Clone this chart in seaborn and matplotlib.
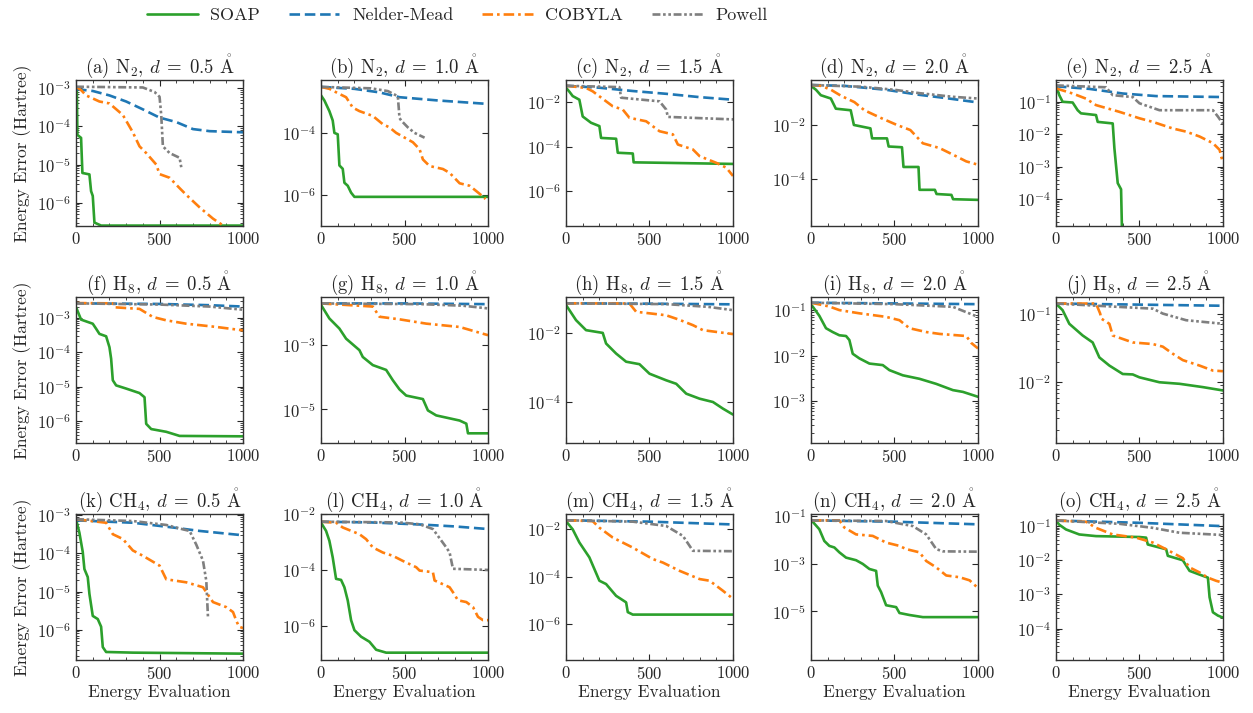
import matplotlib
matplotlib.use("Agg")
import matplotlib.pyplot as plt
from matplotlib.ticker import FixedLocator
import seaborn as sns
import pandas as pd

# ---------- data ((x = energy evaluation, y = energy error)) ----------
methods = ["SOAP", "Nelder-Mead", "COBYLA", "Powell"]
molecules = ["N$_2$"] * 5 + ["H$_8$"] * 5 + ["CH$_4$"] * 5
distances = ["0.5", "1.0", "1.5", "2.0", "2.5"] * 3
letters = "abcdefghijklmno"
ylims = [
    (2.4e-7, 1.65e-3), (1e-7, 5e-3), (2.7e-8, 0.1), (1.8e-6, 0.46), (1.45e-5, 0.47),
    (2.35e-7, 4e-3), (8.9e-7, 0.032), (6.3e-6, 0.117), (1.2e-4, 0.195), (1.3e-3, 0.175),
    (1.6e-7, 1.1e-3), (6e-8, 1.02e-2), (3.2e-8, 0.045), (9e-8, 0.125), (1.2e-5, 0.23),
]
# labelled decades on the y axis of each panel
ytick_exp = [
    [-3, -4, -5, -6], [-4, -6], [-2, -4, -6], [-2, -4], [-1, -2, -3, -4],
    [-3, -4, -5, -6], [-3, -5], [-2, -4], [-1, -2, -3], [-1, -2],
    [-3, -4, -5, -6], [-2, -4, -6], [-2, -4, -6], [-1, -3, -5], [-1, -2, -3, -4],
]

# (a) N2 0.5
a_soap = [(0, 1.0e-3), (5, 8e-4), (8, 6e-5), (30, 5e-5), (38, 6e-6), (80, 5.5e-6), (90, 2e-6),
          (100, 1.5e-6), (110, 3e-7), (150, 2.5e-7), (1000, 2.5e-7)]
a_nm = [(0, 9.5e-4), (100, 8.5e-4), (200, 6.5e-4), (300, 4.5e-4), (400, 2.8e-4), (500, 1.7e-4),
        (600, 1.3e-4), (700, 8.5e-5), (800, 7.5e-5), (1000, 7e-5)]
a_cob = [(0, 1.1e-3), (30, 9e-4), (60, 6.5e-4), (140, 4.5e-4), (200, 4e-4), (280, 2e-4), (340, 7e-5),
         (380, 3e-5), (420, 2e-5), (480, 1e-5), (500, 5.6e-6), (560, 4.5e-6), (620, 2.4e-6),
         (660, 1.6e-6), (740, 7.5e-7), (820, 3.8e-7), (870, 2.7e-7), (880, 2.5e-7)]
a_pow = [(0, 1.1e-3), (400, 1.05e-3), (470, 8e-4), (500, 6e-4), (510, 2e-4), (520, 3e-5),
         (560, 2e-5), (620, 1.5e-5), (630, 8.5e-6)]

# (b) N2 1.0
b_soap = [(0, 1.6e-3), (20, 1.1e-3), (50, 5e-4), (70, 2.5e-4), (80, 1e-4), (100, 9e-5), (110, 9e-6),
          (130, 7e-6), (140, 2.5e-6), (160, 2e-6), (180, 1.2e-6), (200, 8.8e-7), (1000, 8.8e-7)]
b_nm = [(0, 3e-3), (200, 2.6e-3), (350, 2e-3), (470, 1.4e-3), (700, 1.1e-3), (1000, 8.5e-4)]
b_cob = [(0, 3e-3), (50, 2.6e-3), (100, 1.9e-3), (150, 1.4e-3), (190, 6.5e-4), (230, 5e-4),
         (310, 3.5e-4), (370, 1.9e-4), (410, 1.5e-4), (450, 1e-4), (550, 5e-5), (590, 3e-5),
         (610, 1.4e-5), (650, 8.6e-6), (730, 6.9e-6), (770, 5.2e-6), (830, 2.4e-6), (890, 2e-6),
         (950, 1.1e-6), (985, 7.5e-7)]
b_pow = [(0, 3e-3), (300, 2.7e-3), (400, 2.2e-3), (460, 1.5e-3), (470, 3e-4), (480, 2.5e-4),
         (520, 1.5e-4), (560, 1e-4), (620, 7e-5)]

# (c) N2 1.5
c_soap = [(0, 0.045), (20, 0.03), (40, 0.019), (80, 0.013), (100, 2.3e-3), (150, 1.2e-3),
          (200, 8.5e-4), (210, 2.5e-4), (300, 2.3e-4), (310, 5.4e-5), (400, 5e-5), (405, 2e-5),
          (600, 1.9e-5), (1000, 1.7e-5)]
c_nm = [(0, 0.055), (200, 0.045), (400, 0.032), (600, 0.024), (800, 0.017), (1000, 0.013)]
c_cob = [(0, 0.055), (120, 0.044), (160, 0.031), (280, 6.6e-3), (340, 4.7e-3), (380, 2e-3),
         (480, 1.4e-3), (560, 5e-4), (640, 3.6e-4), (670, 1.26e-4), (760, 7.6e-5), (800, 3.8e-5),
         (900, 1.9e-5), (960, 1.15e-5), (1000, 4.9e-6)]
c_pow = [(0, 0.055), (320, 0.048), (330, 0.016), (560, 0.011), (600, 4.7e-3), (610, 2.2e-3),
         (1000, 1.7e-3)]

# (d) N2 2.0
d_soap = [(0, 0.28), (30, 0.2), (59, 0.126), (119, 0.095), (149, 0.04), (238, 0.035), (257, 0.01),
          (356, 7.5e-3), (366, 3.2e-3), (455, 3.2e-3), (465, 1.6e-3), (545, 1.5e-3), (554, 2.8e-4),
          (644, 2.8e-4), (650, 4e-5), (742, 4e-5), (752, 2.8e-5), (841, 2.6e-5), (851, 1.8e-5),
          (1000, 1.7e-5)]
d_nm = [(0, 0.3), (200, 0.28), (450, 0.2), (650, 0.13), (800, 0.1), (1000, 0.068)]
d_cob = [(0, 0.3), (60, 0.28), (120, 0.2), (180, 0.12), (260, 0.07), (320, 0.035), (420, 0.018),
         (515, 0.01), (595, 6.5e-3), (670, 2.1e-3), (770, 1.4e-3), (850, 8e-4), (930, 4.5e-4),
         (1000, 3.4e-4)]
d_pow = [(0, 0.3), (300, 0.26), (500, 0.2), (650, 0.15), (850, 0.11), (1000, 0.095)]

# (e) N2 2.5
e_soap = [(0, 0.32), (20, 0.16), (40, 0.1), (100, 0.095), (130, 0.055), (150, 0.044), (240, 0.039),
          (250, 0.024), (340, 0.0215), (350, 3.7e-3), (370, 3.1e-4), (390, 2e-4), (400, 1e-6)]
e_nm = [(0, 0.3), (200, 0.25), (400, 0.18), (600, 0.15), (1000, 0.14)]
e_cob = [(0, 0.26), (100, 0.18), (180, 0.125), (240, 0.079), (380, 0.049), (500, 0.031),
         (580, 0.024), (700, 0.015), (780, 0.012), (860, 8.5e-3), (940, 5.3e-3), (980, 3.3e-3),
         (1000, 1.3e-3)]
e_pow = [(0, 0.32), (300, 0.28), (340, 0.16), (460, 0.14), (500, 0.09), (620, 0.055), (940, 0.055),
         (970, 0.035), (1000, 0.021)]

# (f) H8 0.5
f_soap = [(0, 2e-3), (30, 8.8e-4), (100, 6.7e-4), (120, 4.8e-4), (140, 3.4e-4), (180, 2.9e-4),
          (200, 1.4e-4), (210, 6.5e-5), (220, 1.55e-5), (240, 1.1e-5), (300, 8.9e-6), (380, 6.6e-6),
          (410, 5e-6), (420, 8.5e-7), (450, 6e-7), (540, 5e-7), (620, 3.8e-7), (1000, 3.7e-7)]
f_nm = [(0, 2.6e-3), (500, 2.5e-3), (800, 2.3e-3), (1000, 2.1e-3)]
f_cob = [(0, 2.65e-3), (220, 2.6e-3), (230, 2e-3), (380, 1.8e-3), (460, 1.05e-3), (540, 8.4e-4),
         (660, 6.7e-4), (840, 5.4e-4), (1000, 4.3e-4)]
f_pow = [(0, 2.6e-3), (500, 2.4e-3), (800, 2.1e-3), (1000, 1.7e-3)]

# (g) H8 1.0
g_soap = [(0, 0.018), (50, 6.8e-3), (110, 3.3e-3), (150, 1.6e-3), (230, 7e-4), (250, 4.3e-4),
          (310, 2.4e-4), (390, 1.7e-4), (430, 8.1e-5), (470, 4.2e-5), (510, 2.7e-5), (610, 2.1e-5),
          (640, 9.3e-6), (690, 6.5e-6), (830, 4.5e-6), (870, 3.6e-6), (880, 1.8e-6), (1000, 1.8e-6)]
g_nm = [(0, 0.02), (500, 0.02), (1000, 0.019)]
g_cob = [(0, 0.02), (310, 0.016), (350, 7.7e-3), (470, 6.4e-3), (630, 4.7e-3), (830, 3.7e-3),
         (1000, 2.05e-3)]
g_pow = [(0, 0.02), (600, 0.019), (850, 0.017), (1000, 0.014)]

# (h) H8 1.5
h_soap = [(0, 0.068), (60, 0.0245), (120, 0.0125), (220, 0.0104), (240, 5.1e-3), (300, 2.6e-3),
          (360, 1.5e-3), (440, 1.27e-3), (500, 6.7e-4), (600, 4.3e-4), (660, 3.4e-4), (720, 1.75e-4),
          (800, 1.25e-4), (880, 1e-4), (940, 6.4e-5), (1000, 4.3e-5)]
h_nm = [(0, 0.076), (500, 0.074), (1000, 0.071)]
h_cob = [(0, 0.076), (380, 0.075), (420, 0.043), (600, 0.034), (680, 0.025), (760, 0.0175),
         (820, 0.0125), (1000, 9.6e-3)]
h_pow = [(0, 0.076), (600, 0.072), (850, 0.06), (1000, 0.048)]

# (i) H8 2.0
i_soap = [(0, 0.13), (10, 0.12), (50, 0.075), (90, 0.04), (130, 0.033), (170, 0.028), (210, 0.027),
          (230, 0.022), (250, 0.011), (290, 8.7e-3), (350, 6.7e-3), (430, 6.2e-3), (470, 4.8e-3),
          (550, 3.7e-3), (650, 3.1e-3), (750, 2.4e-3), (850, 1.75e-3), (910, 1.6e-3), (1000, 1.25e-3)]
i_nm = [(0, 0.145), (500, 0.14), (1000, 0.135)]
i_cob = [(0, 0.145), (110, 0.12), (170, 0.1), (290, 0.085), (450, 0.071), (530, 0.06), (590, 0.04),
         (690, 0.033), (770, 0.03), (930, 0.027), (960, 0.019), (1000, 0.0144)]
i_pow = [(0, 0.145), (500, 0.135), (850, 0.118), (1000, 0.071)]

# (j) H8 2.5
j_soap = [(0, 0.14), (40, 0.112), (80, 0.071), (160, 0.048), (220, 0.038), (260, 0.023),
          (320, 0.0175), (400, 0.0132), (460, 0.013), (500, 0.0118), (620, 0.01), (740, 9.5e-3),
          (880, 8.5e-3), (1000, 7.6e-3)]
j_nm = [(0, 0.14), (500, 0.135), (1000, 0.13)]
j_cob = [(0, 0.14), (240, 0.14), (265, 0.1), (270, 0.085), (320, 0.071), (340, 0.048), (460, 0.038),
         (580, 0.036), (640, 0.033), (700, 0.026), (760, 0.021), (860, 0.0175), (940, 0.0148),
         (1000, 0.0145)]
j_pow = [(0, 0.14), (380, 0.125), (580, 0.118), (640, 0.1), (780, 0.08), (1000, 0.071)]

# (k) CH4 0.5
k_soap = [(0, 7.9e-4), (20, 3.5e-4), (40, 1.1e-4), (50, 3.9e-5), (70, 2.4e-5), (80, 8.7e-6),
          (100, 2.3e-6), (130, 1.9e-6), (150, 1.2e-6), (160, 3.5e-7), (180, 2.6e-7), (340, 2.5e-7),
          (1000, 2.35e-7)]
k_nm = [(0, 7.4e-4), (340, 6.4e-4), (580, 4.8e-4), (740, 3.9e-4), (1000, 3e-4)]
k_cob = [(0, 7.9e-4), (180, 6.4e-4), (220, 3.2e-4), (280, 2.4e-4), (340, 1.2e-4), (400, 8.7e-5),
         (500, 4.8e-5), (540, 2.1e-5), (660, 1.75e-5), (760, 1.3e-5), (820, 5.3e-6), (900, 3.9e-6),
         (940, 2.9e-6), (960, 1.7e-6), (976, 1.2e-6), (1000, 1.1e-6)]
k_pow = [(0, 7.9e-4), (340, 7.1e-4), (540, 5.6e-4), (640, 4.3e-4), (680, 3.9e-4), (720, 1.7e-4),
         (760, 6.5e-5), (780, 1.9e-5), (790, 2.1e-6), (795, 2e-6)]

# (l) CH4 1.0
l_soap = [(0, 4.9e-3), (30, 2.5e-3), (50, 1.1e-3), (70, 2.8e-4), (90, 4.8e-5), (120, 4.4e-5),
          (140, 2.4e-5), (160, 8.1e-6), (180, 1.6e-6), (200, 7e-7), (240, 4.1e-7), (290, 2.7e-7),
          (330, 1.4e-7), (390, 1.1e-7), (1000, 1.1e-7)]
l_nm = [(0, 5.3e-3), (300, 5e-3), (600, 4.2e-3), (800, 3.6e-3), (1000, 2.9e-3)]
l_cob = [(0, 5.3e-3), (90, 4.9e-3), (130, 3.3e-3), (230, 1.9e-3), (270, 1.26e-3), (310, 6.4e-4),
         (370, 4.2e-4), (430, 3.2e-4), (490, 2.1e-4), (570, 1.25e-4), (590, 9.5e-5), (670, 8.3e-5),
         (680, 4.2e-5), (770, 2.4e-5), (790, 1.6e-5), (820, 8.2e-6), (870, 7.1e-6), (910, 4.7e-6),
         (940, 2.1e-6), (970, 1.6e-6), (1000, 1.6e-6)]
l_pow = [(0, 5.3e-3), (470, 5e-3), (590, 4.3e-3), (670, 2.9e-3), (750, 6.4e-4), (770, 4.2e-4),
         (790, 1.1e-4), (1000, 1e-4)]

# (m) CH4 1.5
m_soap = [(0, 0.022), (40, 0.01), (80, 2.8e-3), (140, 6.6e-4), (200, 6.9e-5), (240, 5e-5),
          (300, 1.6e-5), (360, 8.5e-6), (370, 3.3e-6), (400, 2.6e-6), (1000, 2.6e-6)]
m_nm = [(0, 0.024), (500, 0.021), (1000, 0.016)]
m_cob = [(0, 0.024), (160, 0.022), (200, 0.0117), (280, 4.5e-3), (400, 1.7e-3), (520, 5.6e-4),
         (580, 4e-4), (680, 1.8e-4), (800, 8.1e-5), (860, 6.9e-5), (940, 2.6e-5), (1000, 1.2e-5)]
m_pow = [(0, 0.024), (400, 0.021), (600, 0.0138), (700, 5.3e-3), (760, 1.25e-3), (1000, 1.2e-3)]

# (n) CH4 2.0
n_soap = [(0, 0.07), (50, 0.028), (80, 9e-3), (110, 5.6e-3), (140, 4.8e-3), (170, 3e-3),
          (210, 1.8e-3), (270, 1.4e-3), (310, 9.8e-4), (350, 6e-4), (390, 5e-4), (400, 1.2e-4),
          (420, 6.4e-5), (450, 1.8e-5), (510, 1.5e-5), (530, 8.5e-6), (590, 7e-6), (670, 5.7e-6),
          (1000, 5.7e-6)]
n_nm = [(0, 0.066), (500, 0.058), (1000, 0.045)]
n_cob = [(0, 0.066), (170, 0.066), (200, 0.033), (270, 0.017), (370, 0.0147), (450, 7.7e-3),
         (530, 5.6e-3), (570, 4.1e-3), (650, 3e-3), (690, 1.3e-3), (750, 7e-4), (810, 3.2e-4),
         (890, 2.7e-4), (950, 2e-4), (990, 1.1e-4), (1000, 1e-4)]
n_pow = [(0, 0.066), (450, 0.062), (610, 0.038), (690, 0.017), (750, 4.1e-3), (790, 3.3e-3),
         (1000, 3.2e-3)]

# (o) CH4 2.5
o_soap = [(0, 0.146), (20, 0.11), (60, 0.08), (140, 0.057), (240, 0.051), (500, 0.048), (540, 0.046),
          (550, 0.029), (660, 0.021), (670, 0.0135), (760, 0.01), (800, 4.9e-3), (880, 3.5e-3),
          (910, 3.1e-3), (920, 8.3e-4), (940, 3e-4), (970, 2.4e-4), (1000, 2.1e-4)]
o_nm = [(0, 0.146), (500, 0.125), (1000, 0.1)]
o_cob = [(0, 0.146), (180, 0.134), (240, 0.089), (340, 0.057), (480, 0.046), (580, 0.033),
         (660, 0.021), (760, 0.0115), (800, 6.2e-3), (860, 4.4e-3), (910, 3.1e-3), (960, 2.5e-3),
         (1000, 2.2e-3)]
o_pow = [(0, 0.146), (380, 0.117), (580, 0.089), (740, 0.064), (1000, 0.055)]

panels = [
    (a_soap, a_nm, a_cob, a_pow), (b_soap, b_nm, b_cob, b_pow), (c_soap, c_nm, c_cob, c_pow),
    (d_soap, d_nm, d_cob, d_pow), (e_soap, e_nm, e_cob, e_pow),
    (f_soap, f_nm, f_cob, f_pow), (g_soap, g_nm, g_cob, g_pow), (h_soap, h_nm, h_cob, h_pow),
    (i_soap, i_nm, i_cob, i_pow), (j_soap, j_nm, j_cob, j_pow),
    (k_soap, k_nm, k_cob, k_pow), (l_soap, l_nm, l_cob, l_pow), (m_soap, m_nm, m_cob, m_pow),
    (n_soap, n_nm, n_cob, n_pow), (o_soap, o_nm, o_cob, o_pow),
]

# ---------- style ----------
sns.set_style("ticks")
plt.rcParams["font.family"] = ["cmr10", "DejaVu Serif"]
plt.rcParams["mathtext.fontset"] = "cm"
plt.rcParams["axes.formatter.use_mathtext"] = True
plt.rcParams.update({
    "xtick.direction": "in", "ytick.direction": "in",
    "xtick.top": True, "ytick.right": True,
    "xtick.minor.visible": True, "ytick.minor.visible": True,
    "xtick.major.size": 4, "ytick.major.size": 4,
    "xtick.minor.size": 2, "ytick.minor.size": 2,
    "xtick.major.width": 0.8, "ytick.major.width": 0.8,
    "xtick.minor.width": 0.6, "ytick.minor.width": 0.6,
    "axes.linewidth": 1.0, "axes.edgecolor": "#333333",
    "xtick.labelsize": 12, "ytick.labelsize": 12,
})

tab = sns.color_palette("tab10")
colors = {"SOAP": tab[2], "Nelder-Mead": tab[0], "COBYLA": tab[1], "Powell": tab[7]}
styles = {"SOAP": "-", "Nelder-Mead": (0, (4, 1.8)), "COBYLA": (0, (4, 1.5, 1, 1.5)),
          "Powell": (0, (3, 1, 1, 1, 1, 1))}

fig, axes = plt.subplots(3, 5, figsize=(12.53, 7.13), dpi=100)
fig.subplots_adjust(left=0.0607, right=0.976, bottom=0.0743, top=0.8878, wspace=0.467, hspace=0.483)

for idx, ax in enumerate(axes.flat):
    for name, pts in zip(methods, panels[idx]):
        df = pd.DataFrame(pts, columns=["eval", "err"])
        sns.lineplot(data=df, x="eval", y="err", ax=ax, estimator=None, sort=False,
                     color=colors[name], linestyle=styles[name], linewidth=1.9, label=name,
                     legend=False)
    ax.set_yscale("log")
    ax.set_xlim(0, 1000)
    ax.set_ylim(*ylims[idx])
    ax.set_xticks([0, 500, 1000])
    ax.yaxis.set_major_locator(FixedLocator([10.0 ** e for e in ytick_exp[idx]]))
    title = f"({letters[idx]}) {molecules[idx]}, $d\\;=\\;{distances[idx]}$ $\\mathring{{\\mathrm{{A}}}}$"
    ax.set_title(title, fontsize=13.5, pad=5)
    ax.set_xlabel("Energy Evaluation" if idx >= 10 else "", fontsize=12.5, labelpad=2)
    ax.set_ylabel("Energy Error (Hartree)" if idx % 5 == 0 else "", fontsize=12.5)

handles, labels = axes.flat[0].get_legend_handles_labels()
fig.legend(handles, labels, loc="upper center", bbox_to_anchor=(0.365, 1.012), ncol=4,
           frameon=False, fontsize=13, handlelength=2.8, handletextpad=0.7, columnspacing=1.6)

fig.savefig("out.png", dpi=100)
